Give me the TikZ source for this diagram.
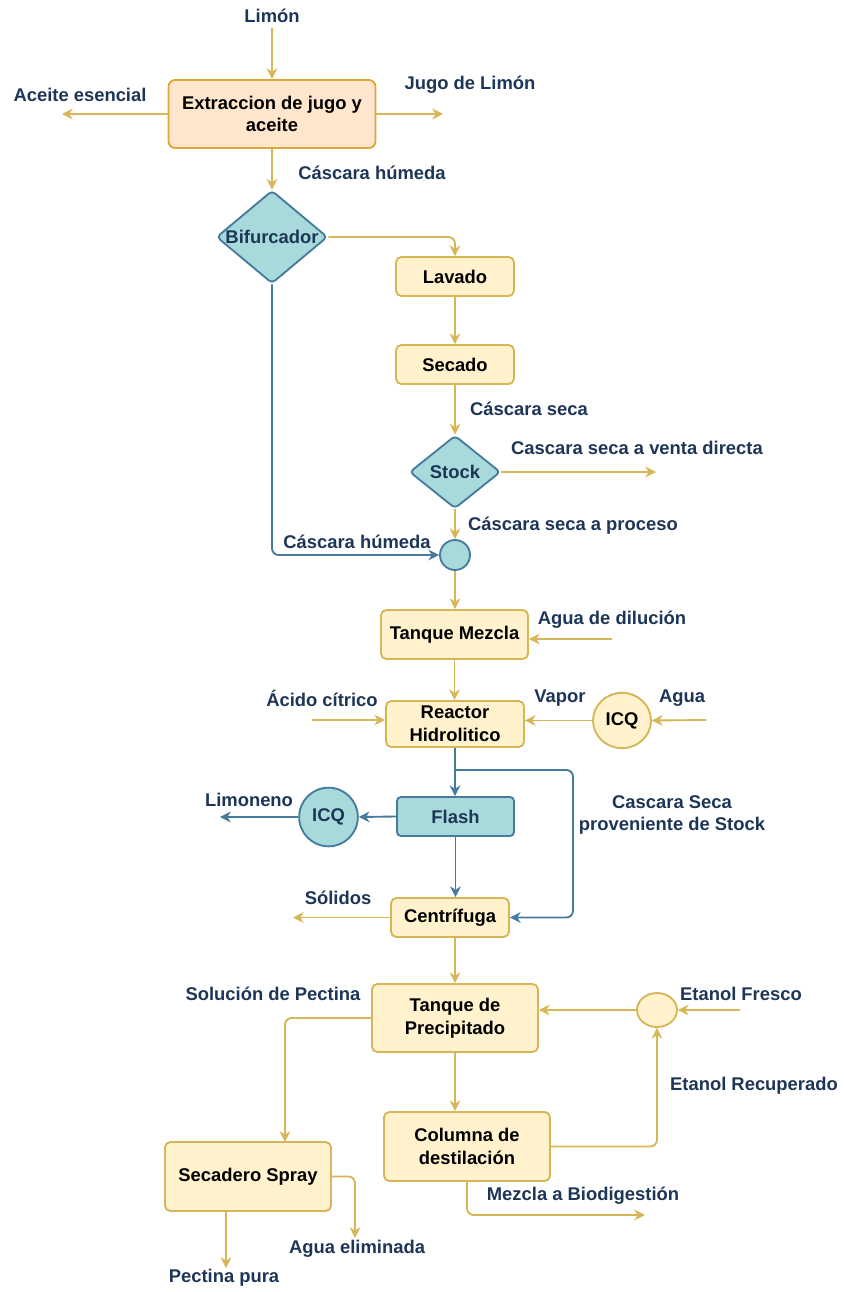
\documentclass[tikz,border=0pt]{standalone}
\usepackage{fontspec}
\setmainfont{Liberation Sans}
\usetikzlibrary{shapes.geometric,arrows.meta}
\definecolor{gline}{HTML}{D6B656}
\definecolor{gfill}{HTML}{FFF2CC}
\definecolor{ofill}{HTML}{FFE6CC}
\definecolor{oline}{HTML}{DDA83A}
\definecolor{tfill}{HTML}{A8DADC}
\definecolor{bline}{HTML}{457B9D}
\definecolor{navy}{HTML}{1D3557}
\begin{document}
\begin{tikzpicture}[x=0.75pt,y=-0.75pt,
  every node/.style={font=\bfseries\fontsize{13.8}{17}\selectfont},
  gbox/.style={draw=gline,fill=gfill,line width=1.4pt,rounded corners=4pt,align=center,inner sep=1pt},
  obox/.style={draw=oline,fill=ofill,line width=1.4pt,rounded corners=5pt,align=center,inner sep=1pt},
  tbox/.style={draw=bline,fill=tfill,line width=1.4pt,rounded corners=3pt,align=center,text=navy,inner sep=1pt},
  tdia/.style={diamond,draw=bline,fill=tfill,line width=1.4pt,rounded corners=3pt,inner sep=0pt},
  dialbl/.style={label={[text=navy,inner sep=0pt]center:#1}},
  gcirc/.style={ellipse,draw=gline,fill=gfill,line width=1.4pt,inner sep=0pt},
  tcirc/.style={circle,draw=bline,fill=tfill,line width=1.4pt,inner sep=0pt,text=navy},
  lbl/.style={text=navy,align=center,inner sep=0pt},
  garrow/.style={draw=gline,line width=1.4pt,-{Stealth[length=8pt,width=8pt,inset=2.5pt]},rounded corners=5pt},
  barrow/.style={draw=bline,line width=1.4pt,-{Stealth[length=8pt,width=8pt,inset=2.5pt]},rounded corners=5pt}
]
\useasboundingbox (0,0) rectangle (843,1292);
% nodes
\node[obox,minimum width=155.25pt,minimum height=51pt] (ext) at (272,114) {Extraccion de jugo y\\aceite};
\node[tdia,minimum width=83.25pt,minimum height=69.75pt,dialbl=Bifurcador] (bif) at (272,237) {};
\node[gbox,minimum width=88.5pt,minimum height=29.25pt] (lav) at (455,276.5) {Lavado};
\node[gbox,minimum width=88.5pt,minimum height=29.25pt] (sec1) at (455,364.5) {Secado};
\node[tdia,minimum width=68.25pt,minimum height=54.75pt,dialbl=Stock] (sto) at (455,472) {};
\node[tcirc,minimum size=22.5pt] (mix) at (455,555) {};
\node[gbox,minimum width=110.25pt,minimum height=36.75pt] (tm) at (454.5,634.5) {Tanque Mezcla};
\node[gbox,minimum width=103.5pt,minimum height=34.5pt] (rea) at (455,724) {Reactor\\Hidrolitico};
\node[gcirc,minimum width=43.5pt,minimum height=41.5pt] (icq1) at (622,720.5) {ICQ};
\node[tbox,minimum width=87.75pt,minimum height=29.25pt] (fla) at (455.5,816.5) {Flash};
\node[tcirc,minimum size=44pt] (icq2) at (328.5,817) {ICQ};
\node[gbox,minimum width=88.5pt,minimum height=29.25pt] (cen) at (450,917.5) {Centrífuga};
\node[gbox,minimum width=124.5pt,minimum height=51pt] (pre) at (455,1018) {Tanque de\\Precipitado};
\node[gcirc,minimum width=30pt,minimum height=25.5pt] (mix2) at (657,1010) {};
\node[gbox,minimum width=124.5pt,minimum height=51.75pt] (col) at (467,1146.5) {Columna de\\destilación};
\node[gbox,minimum width=124.5pt,minimum height=51.75pt] (spr) at (248,1176.5) {Secadero Spray};
% labels
\node[lbl] (lLim) at (272,16) {Limón};
\node[lbl] (lAce) at (80,95) {Aceite esencial};
\node[lbl] (lJug) at (470,85) {Jugo de Limón};
\node[lbl] (lCh1) at (372,173) {Cáscara húmeda};
\node[lbl] (lCs) at (529,409) {Cáscara seca};
\node[lbl] (lVen) at (637,448) {Cascara seca a venta directa};
\node[lbl] (lPro) at (573,526) {Cáscara seca a proceso};
\node[lbl] (lCh2) at (357,542) {Cáscara húmeda};
\node[lbl] (lDil) at (612,620) {Agua de dilución};
\node[lbl] (lAc) at (322,698) {Ácido cítrico};
\node[lbl] (lVap) at (560,698) {Vapor};
\node[lbl] (lAg) at (682,698) {Agua};
\node[lbl] (lLimo) at (249,800) {Limoneno};
\node[lbl] (lCss) at (672,815) {Cascara Seca\\proveniente de Stock};
\node[lbl] (lSol) at (338,898) {Sólidos};
\node[lbl] (lSP) at (273,994) {Solución de Pectina};
\node[lbl] (lEF) at (741,994) {Etanol Fresco};
\node[lbl] (lER) at (754,1086) {Etanol Recuperado};
\node[lbl] (lBio) at (583,1196) {Mezcla a Biodigestión};
\node[lbl] (lAE) at (357,1249) {Agua eliminada};
\node[lbl] (lPP) at (224,1278) {Pectina pura};
% coordinates
\coordinate (cLimS) at (272,28);
\coordinate (cAce) at (62,114);
\coordinate (cJug) at (443,114);
\coordinate (cVen) at (656,472);
\coordinate (cDil) at (612,639);
\coordinate (cAc) at (312,720);
\coordinate (cAg) at (706,720);
\coordinate (cLimo) at (220,817);
\coordinate (cBr) at (455,770);
\coordinate (cBrR) at (573,770);
\coordinate (cSol) at (293,917.5);
\coordinate (cEF) at (740,1010);
\coordinate (cBio) at (645,1215);
\coordinate (cSprIn) at (285,1142);
\coordinate (cAE) at (355,1238);
\coordinate (cSprOut) at (226,1211);
\coordinate (cPP) at (226,1268);
% connectors
\draw[garrow] (cLimS) -- (ext.north);
\draw[garrow] (ext.west) -- (cAce);
\draw[garrow] (ext.east) -- (cJug);
\draw[garrow] (ext.south) -- (bif.north);
\draw[garrow] (bif.east) -| (lav.north);
\draw[garrow] (lav.south) -- (sec1.north);
\draw[garrow] (sec1.south) -- (sto.north);
\draw[garrow] (sto.east) -- (cVen);
\draw[garrow] (sto.south) -- (mix.north);
\draw[barrow] (bif.south) |- (mix.west);
\draw[garrow] (mix.south) -- (mix.south |- tm.north);
\draw[garrow] (cDil) -- (cDil -| tm.east);
\draw[garrow] (tm.south) -- (tm.south |- rea.north);
\draw[garrow] (cAc) -- (cAc -| rea.west);
\draw[garrow] (icq1.west) -- (icq1.west -| rea.east);
\draw[garrow] (cAg) -- (icq1.east);
\draw[barrow] (rea.south) -- (rea.south |- fla.north);
\draw[barrow] (cBr) -- (cBrR) |- (cen.east);
\draw[barrow] (fla.west) -- (icq2.east);
\draw[barrow] (icq2.west) -- (cLimo);
\draw[barrow] (fla.south) -- (fla.south |- cen.north);
\draw[garrow] (cen.west) -- (cSol);
\draw[garrow] (pre.north |- cen.south) -- (pre.north);
\draw[garrow] (mix2.west) -- (mix2.west -| pre.east);
\draw[garrow] (cEF) -- (mix2.east);
\draw[garrow] (pre.south) -- (pre.south |- col.north);
\draw[garrow] (col.east) -| (mix2.south);
\draw[garrow] (col.south) |- (cBio);
\draw[garrow] (pre.west) -| (cSprIn);
\draw[garrow] (spr.east) -| (cAE);
\draw[garrow] (cSprOut) -- (cPP);
\end{tikzpicture}
\end{document}
